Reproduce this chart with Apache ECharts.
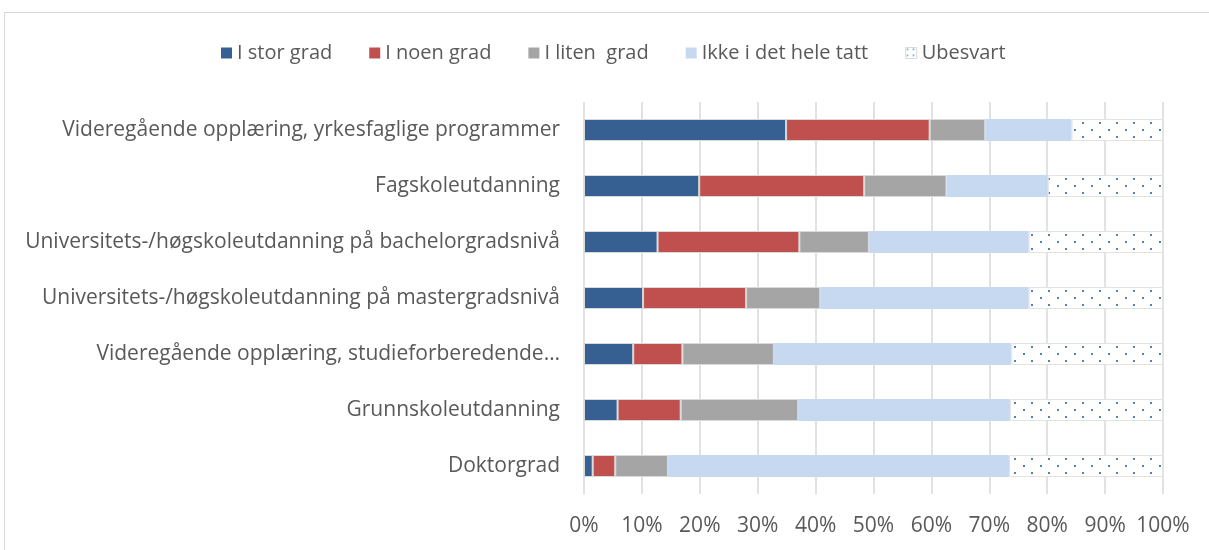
<!DOCTYPE html>
<html>
<head>
<meta charset="utf-8">
<script src="https://cdn.jsdelivr.net/npm/echarts@6/dist/echarts.min.js"></script>
<style>
  html, body { margin: 0; padding: 0; background: #fff; overflow: hidden; }
  #frame { position: absolute; left: 4px; top: 12px; width: 1300px; height: 600px; border: 1px solid #d9d9d9; }
  #chart { position: absolute; left: 0; top: 0; width: 1209px; height: 550px; }
</style>
</head>
<body>
<div id="frame"></div>
<div id="chart"></div>
<script>
var categories = [
    'Videregående opplæring, yrkesfaglige programmer',
    'Fagskoleutdanning',
    'Universitets-/høgskoleutdanning på bachelorgradsnivå',
    'Universitets-/høgskoleutdanning på mastergradsnivå',
    'Videregående opplæring, studieforberedende…',
    'Grunnskoleutdanning',
    'Doktorgrad'
];
var seriesNames = ['I stor grad', 'I noen grad', 'I liten  grad', 'Ikke i det hele tatt', 'Ubesvart'];
var storGrad = [34.9, 19.9, 12.7, 10.2, 8.5, 5.8, 1.5];
var noenGrad = [24.8, 28.5, 24.5, 17.8, 8.5, 10.9, 3.9];
var litenGrad = [9.6, 14.2, 12.0, 12.8, 15.8, 20.3, 9.1];
var ikkeGrad = [14.9, 17.5, 27.6, 36.0, 41.0, 36.6, 58.9];
var ubesvart = [15.8, 19.9, 23.2, 23.2, 26.2, 26.4, 26.6];

// dotted fill used by "Ubesvart"
function makeDots() {
    var c = document.createElement('canvas');
    c.width = 17; c.height = 14;
    var ctx = c.getContext('2d');
    ctx.fillStyle = '#ffffff';
    ctx.fillRect(0, 0, 17, 14);
    ctx.fillStyle = '#4f81bd';
    ctx.fillRect(3, 3, 2, 2);
    ctx.fillRect(11, 10, 2, 2);
    return c;
}

// smaller tile so the legend square shows a couple of dots
function makeLegendDots() {
    var c = document.createElement('canvas');
    c.width = 6; c.height = 6;
    var ctx = c.getContext('2d');
    ctx.fillStyle = '#ffffff';
    ctx.fillRect(0, 0, 6, 6);
    ctx.fillStyle = '#4f81bd';
    ctx.fillRect(1, 1, 1.5, 1.5);
    return c;
}

var font = '"Open Sans", "Liberation Sans", sans-serif';
var colors = ['#366092', '#c0504d', '#a5a5a5', '#c6d9f0', { image: makeDots(), repeat: 'repeat' }];
var borders = ['#d9d9d9', '#d9d9d9', '#d9d9d9', '#c6d9f0', '#e3e3e3'];
var values = [storGrad, noenGrad, litenGrad, ikkeGrad, ubesvart];

var chart = echarts.init(document.getElementById('chart'), null, { renderer: 'canvas' });
chart.setOption({
    animation: false,
    textStyle: { fontFamily: font },
    legend: {
        left: 216,
        top: 38,
        itemWidth: 11,
        itemHeight: 11,
        itemGap: 37,
        textStyle: { fontSize: 20, color: '#595959', fontFamily: font },
        data: seriesNames.map(function (n, i) {
            return {
                name: n,
                icon: 'rect',
                itemStyle: i === 4
                    ? { color: { image: makeLegendDots(), repeat: 'repeat' }, borderColor: '#d9d9d9', borderWidth: 1 }
                    : { borderWidth: 0 }
            };
        })
    },
    grid: { left: 584, right: 46, top: 102, bottom: 56 },
    xAxis: {
        type: 'value',
        min: 0,
        max: 100,
        interval: 10,
        axisLine: { show: false },
        axisTick: { show: false },
        splitLine: { lineStyle: { color: '#d9d9d9', width: 1.5 } },
        axisLabel: { formatter: '{value}%', fontSize: 21, color: '#595959', margin: 22, fontFamily: font }
    },
    yAxis: {
        type: 'category',
        inverse: true,
        data: categories,
        axisLine: { show: false },
        axisTick: { show: false },
        axisLabel: { fontSize: 21, color: '#595959', margin: 24, fontFamily: font }
    },
    series: seriesNames.map(function (n, i) {
        return {
            name: n,
            type: 'bar',
            stack: 'all',
            barWidth: 22,
            data: values[i],
            itemStyle: { color: colors[i], borderColor: borders[i], borderWidth: 1 }
        };
    })
});
</script>
</body>
</html>
